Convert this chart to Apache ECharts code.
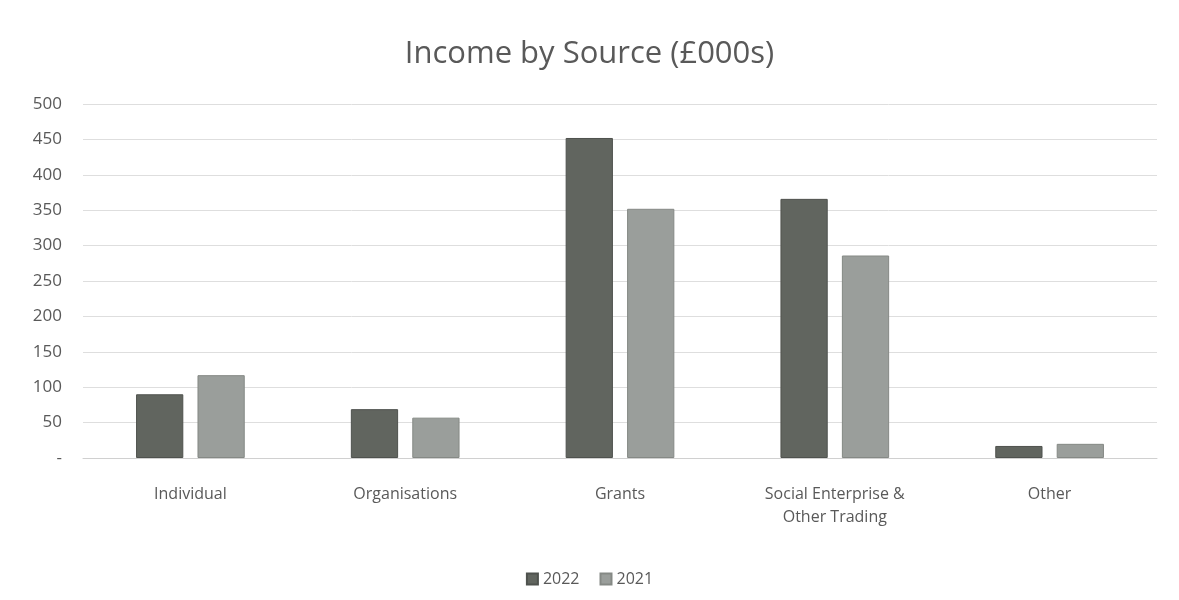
<!DOCTYPE html>
<html>
<head>
<meta charset="utf-8">
<script src="https://cdn.jsdelivr.net/npm/echarts@6/dist/echarts.min.js"></script>
<style>
html,body{margin:0;padding:0;background:#fff;}
#c{width:1179px;height:600px;}
</style>
</head>
<body>
<div id="c"></div>
<script>
const categories = ["Individual", "Organisations", "Grants", "Social Enterprise &\nOther Trading", "Other"];
const values2022 = [90, 69, 452, 366, 17];
const values2021 = [117, 57, 352, 286, 20];
const seriesNames = ["2022", "2021"];

const chart = echarts.init(document.getElementById('c'));
const fontFamily = "'Open Sans', 'Noto Sans', sans-serif";
chart.setOption({
  animation: false,
  title: {
    text: 'Income by Source (£000s)',
    left: 'center',
    top: 34,
    textStyle: {fontFamily, fontSize: 31, fontWeight: 'normal', color: '#595959'}
  },
  legend: {
    data: seriesNames,
    bottom: 8,
    left: 'center',
    itemWidth: 11,
    itemHeight: 11,
    itemGap: 20,
    icon: 'rect',
    textStyle: {fontFamily, fontSize: 16, color: '#595959'}
  },
  grid: {left: 83, right: 22, top: 104, bottom: 142},
  xAxis: {
    type: 'category',
    data: categories,
    axisLine: {lineStyle: {color: '#d0d0d0'}},
    axisTick: {show: false},
    axisLabel: {fontFamily, fontSize: 16, color: '#595959', margin: 25, lineHeight: 23}
  },
  yAxis: {
    type: 'value',
    min: 0,
    max: 500,
    interval: 50,
    axisLine: {show: false},
    axisTick: {show: false},
    splitLine: {lineStyle: {color: '#dedede'}},
    axisLabel: {
      fontFamily, fontSize: 17, color: '#595959', margin: 21,
      formatter: v => v === 0 ? '-' : String(v)
    }
  },
  series: [
    {name: seriesNames[0], type: 'bar', data: values2022, barWidth: '22%', barGap: '30%',
      itemStyle: {color: '#61655f', borderColor: '#4f524e', borderWidth: 1}},
    {name: seriesNames[1], type: 'bar', data: values2021, barWidth: '22%', barGap: '30%',
      itemStyle: {color: '#9a9e9b', borderColor: '#858985', borderWidth: 1}}
  ]
});
</script>
</body>
</html>
